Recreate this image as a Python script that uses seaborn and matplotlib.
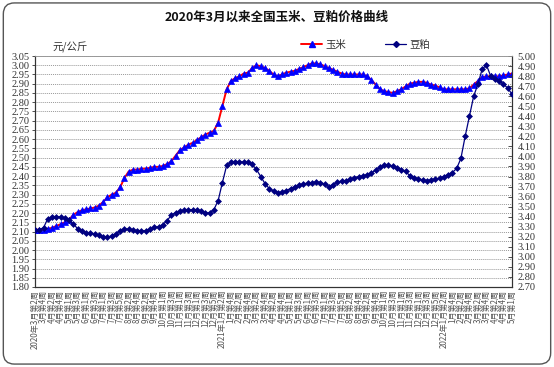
import numpy as np
import pandas as pd
import matplotlib
matplotlib.use("Agg")
import matplotlib.pyplot as plt
from matplotlib.patches import FancyBboxPatch
from matplotlib.lines import Line2D
import seaborn as sns

title = "2020年3月以来全国玉米、豆粕价格曲线"
unit = "元/公斤"
series_names = ["玉米", "豆粕"]

# tick labels, one every two weeks
tick_labels = [
    "2020年3月第2周", "3月第4周", "4月第2周", "4月第4周", "5月第1周", "5月第3周",
    "6月第1周", "6月第3周", "7月第1周", "7月第3周", "7月第5周", "8月第2周",
    "8月第4周", "9月第2周", "9月第4周", "10月第1周", "10月第3周", "11月第1周",
    "11月第3周", "12月第1周", "12月第3周", "12月第5周",
    "2021年1月第2周", "1月第4周", "2月第2周", "2月第4周", "3月第2周", "3月第4周",
    "4月第2周", "4月第4周", "5月第1周", "5月第3周", "6月第1周", "6月第3周",
    "7月第1周", "7月第3周", "7月第5周", "8月第2周", "8月第4周", "9月第2周",
    "9月第4周", "10月第1周", "10月第3周", "11月第1周", "11月第3周", "12月第1周",
    "12月第3周", "12月第5周",
    "2022年1月第2周", "1月第4周", "2月第2周", "2月第4周", "3月第2周", "3月第4周",
    "4月第2周", "4月第4周", "5月第1周",
]

# weekly prices (元/公斤)
corn = [
    2.11, 2.11, 2.11, 2.115, 2.12, 2.13, 2.14, 2.15, 2.165, 2.19,
    2.205, 2.215, 2.22, 2.225, 2.23, 2.24, 2.26, 2.285, 2.30, 2.31,
    2.34, 2.39, 2.425, 2.435, 2.435, 2.44, 2.44, 2.445, 2.45, 2.45,
    2.455, 2.465, 2.48, 2.51, 2.54, 2.555, 2.57, 2.58, 2.595, 2.61,
    2.625, 2.635, 2.645, 2.69, 2.78, 2.87, 2.915, 2.93, 2.94, 2.955,
    2.96, 2.985, 3.00, 2.995, 2.985, 2.97, 2.95, 2.94, 2.95, 2.96,
    2.965, 2.97, 2.98, 2.99, 3.00, 3.01, 3.01, 3.005, 2.995, 2.985,
    2.975, 2.965, 2.955, 2.95, 2.95, 2.95, 2.95, 2.95, 2.94, 2.92,
    2.895, 2.87, 2.86, 2.855, 2.85, 2.86, 2.87, 2.885, 2.90, 2.905,
    2.91, 2.91, 2.905, 2.895, 2.89, 2.88, 2.87, 2.87, 2.87, 2.87,
    2.87, 2.87, 2.875, 2.895, 2.915, 2.935, 2.94, 2.94, 2.94, 2.94,
    2.945, 2.95, 2.955,
]
soymeal = [
    3.27, 3.27, 3.29, 3.38, 3.40, 3.40, 3.40, 3.385, 3.365, 3.33,
    3.28, 3.255, 3.24, 3.235, 3.23, 3.215, 3.20, 3.195, 3.21, 3.23,
    3.26, 3.28, 3.275, 3.265, 3.26, 3.26, 3.26, 3.275, 3.295, 3.30,
    3.32, 3.36, 3.415, 3.44, 3.455, 3.465, 3.47, 3.47, 3.47, 3.455,
    3.435, 3.44, 3.47, 3.56, 3.74, 3.91, 3.94, 3.945, 3.945, 3.945,
    3.94, 3.92, 3.87, 3.80, 3.73, 3.68, 3.655, 3.64, 3.645, 3.66,
    3.68, 3.70, 3.715, 3.725, 3.735, 3.74, 3.745, 3.74, 3.725, 3.70,
    3.72, 3.745, 3.755, 3.76, 3.775, 3.79, 3.80, 3.805, 3.82, 3.835,
    3.865, 3.89, 3.91, 3.915, 3.90, 3.88, 3.865, 3.85, 3.81, 3.79,
    3.78, 3.765, 3.76, 3.765, 3.775, 3.785, 3.80, 3.82, 3.84, 3.88,
    3.98, 4.20, 4.40, 4.60, 4.72, 4.87, 4.91, 4.80, 4.77, 4.75,
    4.72, 4.68, 4.62,
]

sns.set_theme(style="white")
plt.rcParams["font.family"] = ["Noto Sans CJK SC", "DejaVu Sans"]

week = np.arange(len(corn))
df = pd.DataFrame({"week": week, "corn": corn, "soymeal": soymeal})

fig = plt.figure(figsize=(5.54, 3.67), dpi=100)
fig.patch.set_facecolor("white")
ax = fig.add_axes([35 / 554, 1 - 287 / 367, (512 - 35) / 554, (287 - 56) / 367])
ax2 = ax.twinx()

sns.lineplot(data=df, x="week", y="corn", ax=ax, color="red", lw=1.4,
             marker="^", markersize=5, markerfacecolor="blue",
             markeredgecolor="blue", markeredgewidth=0.5, zorder=3)
sns.lineplot(data=df, x="week", y="soymeal", ax=ax2, color="#000080", lw=0.9,
             marker="D", markersize=3.0, markerfacecolor="#000080",
             markeredgecolor="#000080", markeredgewidth=0.5, zorder=3)

ax.set_xlim(0, len(corn) - 1)
ax.set_ylim(1.80, 3.05)
ax2.set_ylim(2.70, 5.00)

lt = np.round(np.arange(1.80, 3.0501, 0.05), 2)
ax.set_yticks(lt)
ax.set_yticklabels([f"{v:.2f}" for v in lt], family="Liberation Serif", fontsize=7.5, color="#333333")
rt = np.round(np.arange(2.70, 5.0001, 0.10), 2)
ax2.set_yticks(rt)
ax2.set_yticklabels([f"{v:.2f}" for v in rt], family="Liberation Serif", fontsize=7.5, color="#333333")

ax.set_xticks(week[::2])
ax.set_xticklabels(tick_labels, rotation=90, fontsize=5.8, color="#555555",
                   va="top", ha="center")
ax.set_xlabel("")
ax.set_ylabel("")
ax2.set_ylabel("")

ax.grid(axis="y", color="#999999", linestyle=(0, (1, 1)), lw=0.7)
ax.grid(axis="x", visible=False)
ax2.grid(False)
for a in (ax, ax2):
    for s in ("left", "right", "bottom"):
        a.spines[s].set_color("#333333")
        a.spines[s].set_linewidth(0.8)
    a.spines["top"].set_color("#999999")
    a.spines["top"].set_linewidth(0.6)
ax.tick_params(axis="x", direction="in", length=3, width=0.6, pad=2, color="#333333")
ax.tick_params(axis="y", direction="out", length=2, width=0.6, pad=2, color="#333333")
ax2.tick_params(axis="y", direction="in", length=3, width=0.6, pad=4, color="#333333")

fig.text(0.5, 1 - 17 / 367, title, ha="center", va="center", fontsize=9,
         fontweight="bold", color="#111111")
fig.text(52 / 554, 1 - 47 / 367, unit, ha="left", va="center", fontsize=7.5,
         color="#333333")

h1 = Line2D([], [], color="red", lw=1.4, marker="^", markersize=5,
            markerfacecolor="blue", markeredgecolor="blue")
h2 = Line2D([], [], color="#000080", lw=0.9, marker="D", markersize=3.0,
            markerfacecolor="#000080", markeredgecolor="#000080")
fig.legend([h1], [series_names[0]], loc="center left", bbox_to_anchor=(296 / 554, 1 - 45 / 367),
           frameon=False, fontsize=7.5, handlelength=2.0, handletextpad=0.3,
           borderpad=0, labelcolor="#333333")
fig.legend([h2], [series_names[1]], loc="center left", bbox_to_anchor=(380 / 554, 1 - 45 / 367),
           frameon=False, fontsize=7.5, handlelength=2.0, handletextpad=0.3,
           borderpad=0, labelcolor="#333333")

border = FancyBboxPatch((0.006, 0.008), 0.988, 0.984, boxstyle="round,pad=0,rounding_size=0.02",
                        transform=fig.transFigure, fill=False, ec="#555555", lw=1.0,
                        mutation_aspect=554 / 367)
fig.patches.append(border)

fig.savefig("out.png", dpi=100, facecolor="white")
